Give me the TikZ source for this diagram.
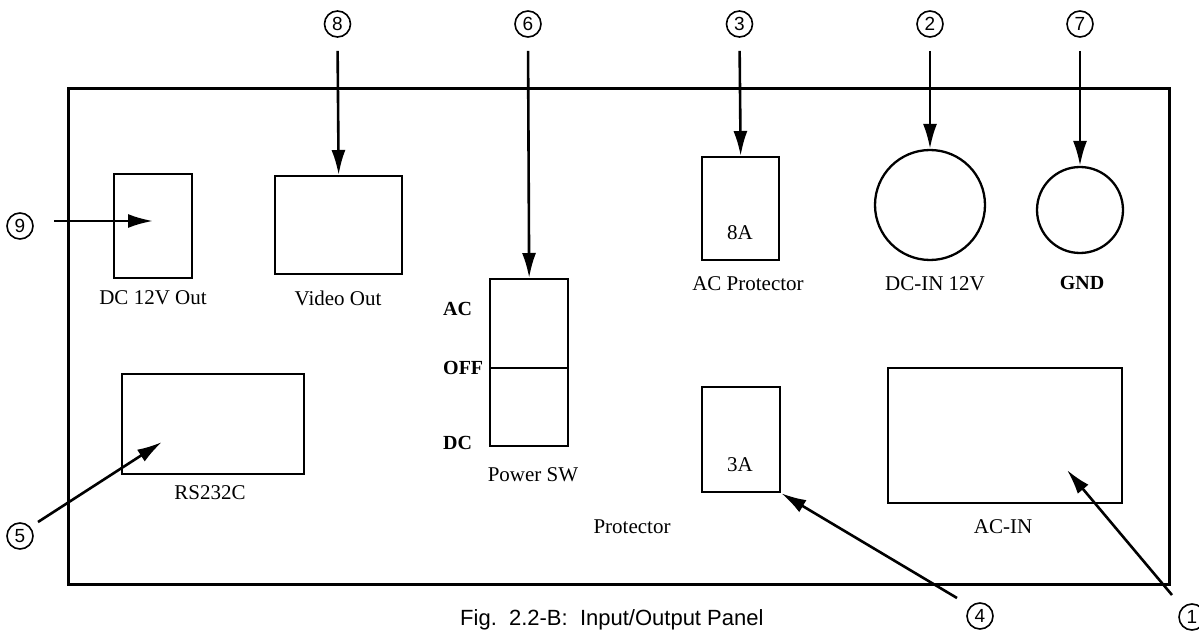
\documentclass[tikz,border=0pt]{standalone}
\usepackage{fontspec}
\setmainfont{Liberation Serif}
\newfontfamily\sansf{Liberation Sans}
\usetikzlibrary{arrows.meta}
\begin{document}
\begin{tikzpicture}[x=1pt,y=-1pt,
  panelbox/.style={draw,line width=2.6pt,inner sep=0pt,anchor=north west},
  box/.style={draw,line width=2.3pt,inner sep=0pt,anchor=north west},
  roundport/.style={draw,circle,line width=2.3pt,inner sep=0pt},
  lbl/.style={font=\fontsize{21}{24}\selectfont,inner sep=0pt},
  blbl/.style={font=\bfseries\fontsize{20}{24}\selectfont,inner sep=0pt,anchor=west},
  callout/.style={draw,circle,line width=1.6pt,minimum size=26pt,inner sep=0pt,font=\sansf\fontsize{19}{19}\selectfont},
  arr/.style={line width=2.6pt,-{Latex[length=25pt,width=14pt]}},
  every node/.append style={text=black}]
\useasboundingbox (0,0) rectangle (1199,631);
% panel
\node[panelbox,minimum width=1101pt,minimum height=496pt] (panel) at (67,87) {};
% components
\node[box,minimum width=78pt,minimum height=104pt] (dcout) at (113,173) {};
\node[box,minimum width=127pt,minimum height=98pt] (video) at (274,175) {};
\node[box,minimum width=182pt,minimum height=100pt] (rs) at (121,373) {};
\node[box,minimum width=78pt,minimum height=167pt] (sw) at (489,278) {};
\coordinate (swmid) at (489,368);
\draw[line width=2.3pt] (swmid) -- (swmid -| sw.east);
\node[box,minimum width=77pt,minimum height=103pt] (acp) at (701,156) {};
\node[box,minimum width=78pt,minimum height=105pt] (p3a) at (701,386) {};
\node[box,minimum width=234pt,minimum height=135pt] (acin) at (887,367) {};
\node[roundport,minimum size=110pt] (dcin) at (930,205) {};
\node[roundport,minimum size=86pt] (gnd) at (1080,210) {};
% labels
\node[lbl] (ldcout) at (153,298) {DC 12V Out};
\node[lbl] (lvideo) at (338,298) {Video Out};
\node[lbl] (lrs) at (210,493) {RS232C};
\node[blbl] (lac) at (443,309) {AC};
\node[blbl] (loff) at (443,368) {OFF};
\node[blbl] (ldc) at (443,443) {DC};
\node[lbl] (lsw) at (533,475) {Power SW};
\node[lbl] (lprot) at (632,527) {Protector};
\node[lbl] (l3a) at (740,465) {3A};
\node[lbl] (l8a) at (740,233) {8A};
\node[lbl] (lacp) at (748,284) {AC Protector};
\node[lbl] (ldcin) at (935,284) {DC-IN 12V};
\node[lbl,font=\bfseries\fontsize{20}{24}\selectfont] (lgnd) at (1082,283) {GND};
\node[lbl] (lacin) at (1003,527) {AC-IN};
% callouts
\node[callout] (c8) at (337.5,24) {8};
\node[callout] (c6) at (528,24) {6};
\node[callout] (c3) at (739.5,24) {3};
\node[callout] (c2) at (930,24) {2};
\node[callout] (c7) at (1080,24) {7};
\node[callout] (c9) at (20,226) {9};
\node[callout] (c5) at (20,536) {5};
\node[callout] (c4) at (980,616) {4};
\node[callout] (c1) at (1192,617) {1};
% leader arrows
\draw[arr,shorten <=13pt] (c8.south) -- (video.north);
\draw[arr,shorten <=13pt] (c6.south) -- (sw.north);
\draw[arr,shorten <=13pt] (c3.south) -- (acp.north);
\draw[arr,shorten <=13pt] (c2.south) -- (dcin.north);
\draw[arr,shorten <=13pt] (c7.south) -- (gnd.north);
\coordinate (s9) at (54,221);
\coordinate (t9) at (153,221);
\draw[arr] (s9) -- (t9);
\coordinate (s5) at (38,522);
\coordinate (t5) at (162,442);
\draw[arr] (s5) -- (t5);
\coordinate (s4) at (957,598);
\draw[arr] (s4) -- (p3a.south east);
\coordinate (s1) at (1172,595);
\coordinate (t1) at (1067,470);
\draw[arr] (s1) -- (t1);
% caption
\node[anchor=base west,inner sep=0pt,font=\sansf\fontsize{22}{24}\selectfont] (cap) at (460,625) {Fig.\ \ 2.2-B:\ \ Input/Output Panel};
\end{tikzpicture}
\end{document}
